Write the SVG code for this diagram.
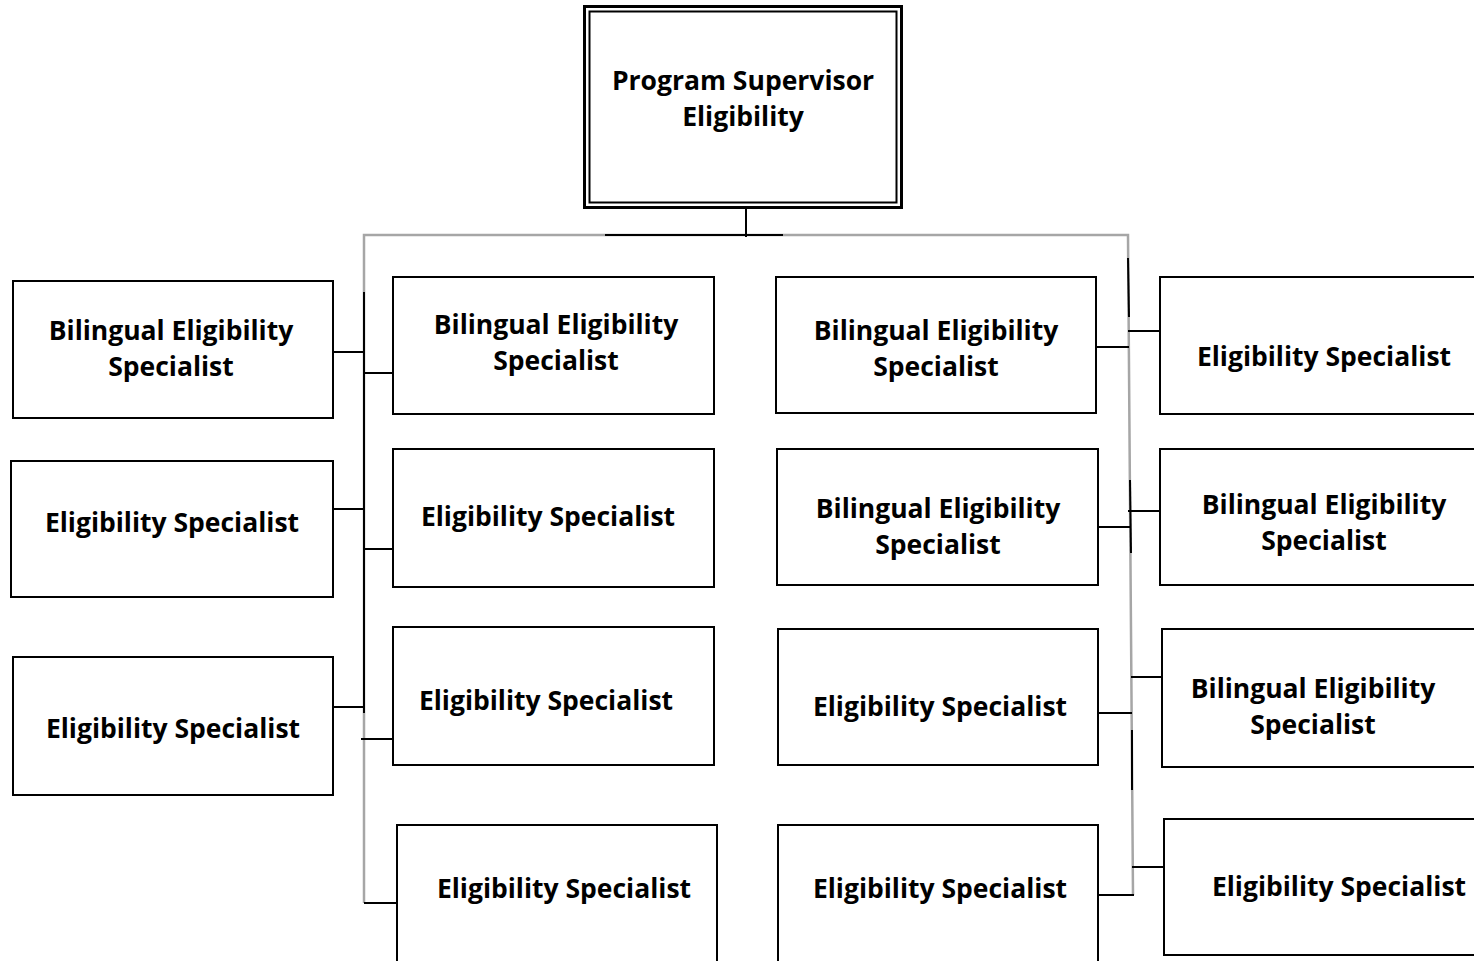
<svg xmlns="http://www.w3.org/2000/svg" width="1474" height="961" viewBox="0 0 1474 961">
  <style>
    .box { fill: #ffffff; stroke: #000000; stroke-width: 2; }
    .lbl { font-family: "Open Sans", "DejaVu Sans", sans-serif; font-weight: bold; font-size: 26.5px; fill: #000000; text-anchor: middle; dominant-baseline: central; }
    .trunk { fill: none; stroke: #a6a6a6; stroke-width: 2.5; }
    .link { fill: none; stroke: #000000; stroke-width: 2; }
  </style>
  <rect width="1474" height="961" fill="#ffffff"/>

  <!-- connectors -->
  <g id="connectors">
    <!-- header bar and trunks -->
    <polyline class="trunk" points="364,903 364,235 1128,235 1133,895"/>
    <line class="link" x1="605" y1="235" x2="783" y2="235"/>
    <line class="link" x1="746" y1="208" x2="746" y2="237"/>
    <line class="link" x1="364" y1="292" x2="364" y2="713"/>
    <line class="link" x1="1128" y1="258" x2="1129" y2="317"/>
    <line class="link" x1="1130" y1="480" x2="1131" y2="553"/>
    <line class="link" x1="1132" y1="730" x2="1132" y2="790"/>
    <!-- left column -->
    <line class="link" x1="333" y1="352" x2="364" y2="352"/>
    <line class="link" x1="333" y1="509" x2="364" y2="509"/>
    <line class="link" x1="333" y1="707" x2="364" y2="707"/>
    <!-- second column -->
    <line class="link" x1="364" y1="373" x2="393" y2="373"/>
    <line class="link" x1="364" y1="549" x2="393" y2="549"/>
    <line class="link" x1="361" y1="739" x2="393" y2="739"/>
    <line class="link" x1="364" y1="903" x2="397" y2="903"/>
    <!-- third column -->
    <line class="link" x1="1096" y1="347" x2="1129" y2="347"/>
    <line class="link" x1="1098" y1="527" x2="1131" y2="527"/>
    <line class="link" x1="1098" y1="713" x2="1132" y2="713"/>
    <line class="link" x1="1096" y1="895" x2="1134" y2="895"/>
    <!-- right column -->
    <line class="link" x1="1128" y1="331" x2="1160" y2="331"/>
    <line class="link" x1="1128" y1="511" x2="1160" y2="511"/>
    <line class="link" x1="1131" y1="677" x2="1162" y2="677"/>
    <line class="link" x1="1132" y1="867" x2="1164" y2="867"/>
  </g>

  <!-- supervisor -->
  <g id="supervisor">
    <rect x="584.5" y="6.5" width="317" height="201" fill="#ffffff" stroke="#000" stroke-width="3"/>
    <rect x="589.5" y="11.5" width="307" height="191" fill="none" stroke="#000" stroke-width="2"/>
    <text class="lbl" x="743" y="80">Program Supervisor</text>
    <text class="lbl" x="743" y="116">Eligibility</text>
  </g>

  <!-- left column -->
  <g id="a1"><rect class="box" x="13" y="281" width="320" height="137"/>
    <text class="lbl" x="171" y="330">Bilingual Eligibility</text><text class="lbl" x="171" y="366">Specialist</text></g>
  <g id="a2"><rect class="box" x="11" y="461" width="322" height="136"/>
    <text class="lbl" x="172" y="522">Eligibility Specialist</text></g>
  <g id="a3"><rect class="box" x="13" y="657" width="320" height="138"/>
    <text class="lbl" x="173" y="728">Eligibility Specialist</text></g>

  <!-- second column -->
  <g id="b1"><rect class="box" x="393" y="277" width="321" height="137"/>
    <text class="lbl" x="556" y="324">Bilingual Eligibility</text><text class="lbl" x="556" y="360">Specialist</text></g>
  <g id="b2"><rect class="box" x="393" y="449" width="321" height="138"/>
    <text class="lbl" x="548" y="516">Eligibility Specialist</text></g>
  <g id="b3"><rect class="box" x="393" y="627" width="321" height="138"/>
    <text class="lbl" x="546" y="700">Eligibility Specialist</text></g>
  <g id="b4"><rect class="box" x="397" y="825" width="320" height="150"/>
    <text class="lbl" x="564" y="888">Eligibility Specialist</text></g>

  <!-- third column -->
  <g id="c1"><rect class="box" x="776" y="277" width="320" height="136"/>
    <text class="lbl" x="936" y="330">Bilingual Eligibility</text><text class="lbl" x="936" y="366">Specialist</text></g>
  <g id="c2"><rect class="box" x="777" y="449" width="321" height="136"/>
    <text class="lbl" x="938" y="508">Bilingual Eligibility</text><text class="lbl" x="938" y="544">Specialist</text></g>
  <g id="c3"><rect class="box" x="778" y="629" width="320" height="136"/>
    <text class="lbl" x="940" y="706">Eligibility Specialist</text></g>
  <g id="c4"><rect class="box" x="778" y="825" width="320" height="150"/>
    <text class="lbl" x="940" y="888">Eligibility Specialist</text></g>

  <!-- right column -->
  <g id="d1"><rect class="box" x="1160" y="277" width="330" height="137"/>
    <text class="lbl" x="1324" y="356">Eligibility Specialist</text></g>
  <g id="d2"><rect class="box" x="1160" y="449" width="330" height="136"/>
    <text class="lbl" x="1324" y="504">Bilingual Eligibility</text><text class="lbl" x="1324" y="540">Specialist</text></g>
  <g id="d3"><rect class="box" x="1162" y="629" width="330" height="138"/>
    <text class="lbl" x="1313" y="688">Bilingual Eligibility</text><text class="lbl" x="1313" y="724">Specialist</text></g>
  <g id="d4"><rect class="box" x="1164" y="819" width="330" height="136"/>
    <text class="lbl" x="1339" y="886">Eligibility Specialist</text></g>
</svg>
